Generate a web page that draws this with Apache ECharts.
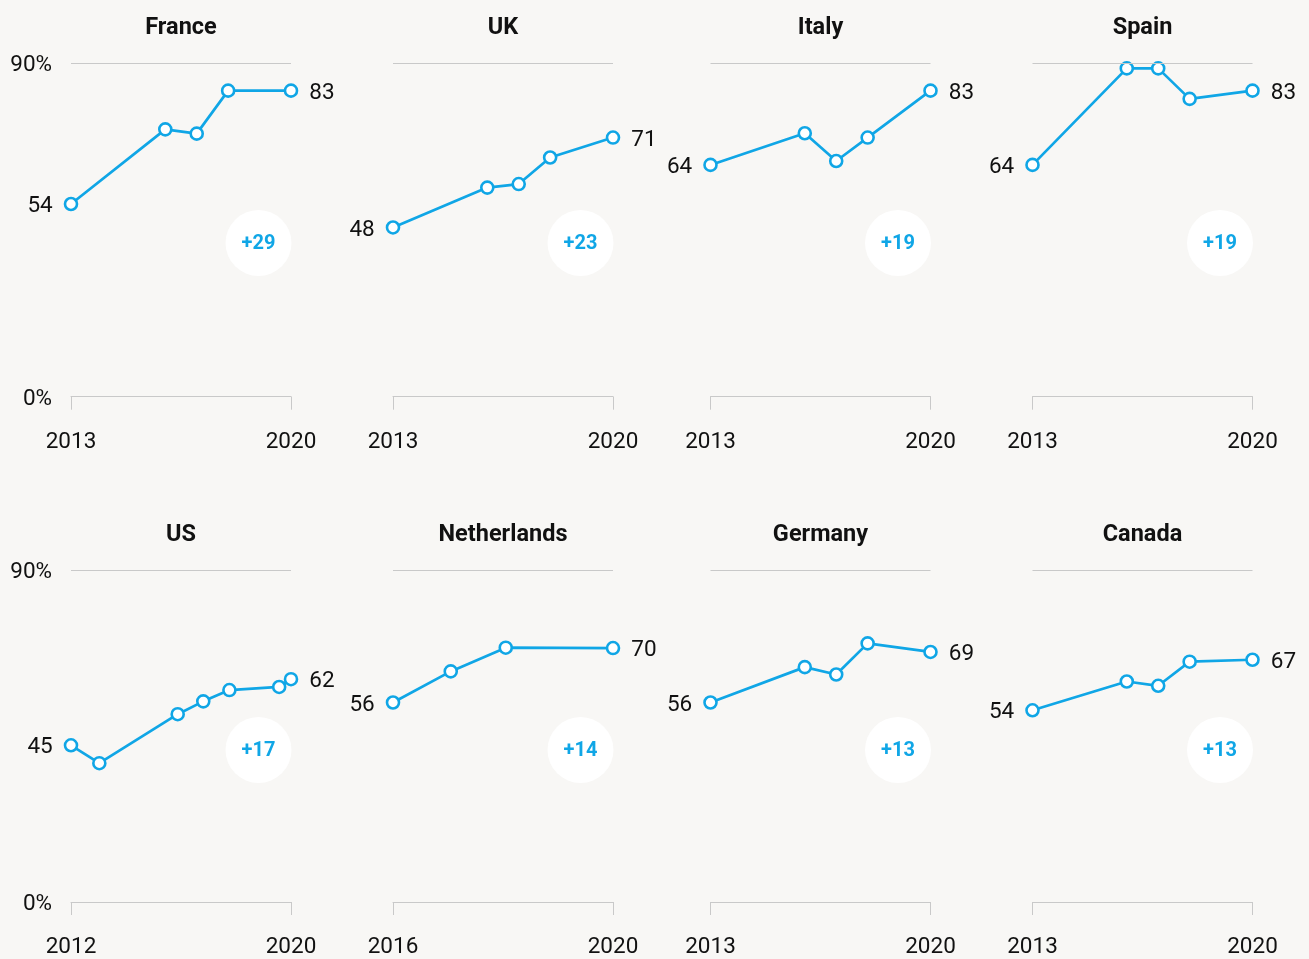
<!DOCTYPE html>
<html>
<head>
<meta charset="utf-8">
<script src="https://cdn.jsdelivr.net/npm/echarts@6/dist/echarts.min.js"></script>
<style>
html,body{margin:0;padding:0;background:#f8f7f5;}
#chart{width:1309px;height:959px;}
</style>
</head>
<body>
<div id="chart"></div>
<script>
// ---- data ----
const countries = ['France', 'UK', 'Italy', 'Spain', 'US', 'Netherlands', 'Germany', 'Canada'];
const yearsStd = [2013, 2016, 2017, 2018, 2020];
const yearsUS = [2012, 2013.03, 2015.88, 2016.81, 2017.76, 2019.57, 2020];
const yearsNL = [2016, 2017.05, 2018.05, 2020];
const franceVals = [54, 73.1, 72.0, 83, 83];
const ukVals = [48, 58.2, 59.1, 65.9, 71];
const italyVals = [64, 72.1, 65.0, 71.0, 83];
const spainVals = [64, 88.7, 88.7, 80.9, 83];
const usVals = [45, 40.4, 53.0, 56.3, 59.2, 60.0, 62];
const nlVals = [56, 64.0, 70.1, 70];
const germanyVals = [56, 65.1, 63.2, 71.2, 69];
const canadaVals = [54, 61.4, 60.3, 66.5, 67];
const yTickLabels = ['0%', '90%'];
const yTop = 90;

const seriesYears = [yearsStd, yearsStd, yearsStd, yearsStd, yearsUS, yearsNL, yearsStd, yearsStd];
const seriesVals = [franceVals, ukVals, italyVals, spainVals, usVals, nlVals, germanyVals, canadaVals];

// ---- layout / style ----
const BLUE = '#10a6e6';
const TEXT = '#111111';
const GRAY = '#c9c9c9';
const FONT = 'Roboto, "Noto Sans", sans-serif';
const colLeft = [71, 393, 710.5, 1032.5];
const gridW = 220;
const rowTop = [63.3, 570.3];
const gridH = 333.4;
const yBase = 4.7; // value at which the baseline axis sits

const grids = [], xAxes = [], yAxes = [], series = [], titles = [], graphics = [];

countries.forEach((name, i) => {
  const col = i % 4, row = Math.floor(i / 4);
  const left = colLeft[col], top = rowTop[row];
  const yrs = seriesYears[i], vals = seriesVals[i];
  const xmin = yrs[0], xmax = yrs[yrs.length - 1];

  grids.push({ left: left, top: top, width: gridW, height: gridH, containLabel: false });

  xAxes.push({
    type: 'value', gridIndex: i, min: xmin, max: xmax,
    axisLine: { show: true, lineStyle: { color: GRAY, width: 1 } },
    axisTick: { show: true, customValues: [xmin, xmax], length: 13, lineStyle: { color: GRAY, width: 1 } },
    axisLabel: { show: true, customValues: [xmin, xmax], fontSize: 22.5, color: TEXT, fontFamily: FONT, margin: 34,
      formatter: v => String(Math.round(v)) },
    splitLine: { show: false }
  });

  yAxes.push({
    type: 'value', gridIndex: i, min: yBase, max: yTop,
    axisLine: { show: false }, axisTick: { show: false }, splitLine: { show: false },
    axisLabel: { show: col === 0, customValues: [yBase, yTop], fontSize: 22.5, color: TEXT, fontFamily: FONT, margin: 19,
      verticalAlign: 'top', lineHeight: 5,
      formatter: v => (v >= yTop ? yTickLabels[1] : yTickLabels[0]) }
  });

  const data = vals.map((v, k) => {
    const item = { value: [yrs[k], v] };
    if (k === 0) item.label = { show: true, position: 'left' };
    else if (k === vals.length - 1) item.label = { show: true, position: 'right' };
    return item;
  });

  series.push({
    type: 'line', xAxisIndex: i, yAxisIndex: i, data: data, clip: false,
    symbol: 'circle', symbolSize: 12, showAllSymbol: true,
    lineStyle: { color: BLUE, width: 2.7 },
    itemStyle: { color: '#fff', borderColor: BLUE, borderWidth: 2.6 },
    label: { show: false, distance: 11, fontSize: 22.5, color: TEXT, fontFamily: FONT, offset: [0, 2.5],
      formatter: p => String(Math.round(p.value[1])) },
    emphasis: { disabled: true },
    markLine: { silent: true, symbol: 'none', label: { show: false },
      lineStyle: { color: GRAY, type: 'solid', width: 1 }, data: [{ yAxis: yTop }] },
    z: 3
  });

  titles.push({
    text: name, left: left + gridW / 2, top: top - 47, textAlign: 'center', padding: 0,
    textStyle: { fontSize: 23.5, fontWeight: 'bold', color: TEXT, fontFamily: FONT }
  });

  const diff = vals[vals.length - 1] - vals[0];
  const cx = left + 187.5, cy = top + 179.7;
  graphics.push({
    type: 'circle', shape: { cx: cx, cy: cy, r: 33 }, style: { fill: '#ffffff' }, z: 1, silent: true
  });
  graphics.push({
    type: 'text', x: cx, y: cy + 1, z: 2, silent: true,
    style: { text: (diff >= 0 ? '+' : '') + diff, fill: BLUE, font: 'bold 20px ' + FONT, align: 'center', verticalAlign: 'middle' }
  });
});

const chart = echarts.init(document.getElementById('chart'), null, { renderer: 'canvas' });
chart.setOption({
  backgroundColor: '#f8f7f5',
  animation: false,
  title: titles,
  grid: grids,
  xAxis: xAxes,
  yAxis: yAxes,
  series: series,
  graphic: graphics
});
</script>
</body>
</html>
